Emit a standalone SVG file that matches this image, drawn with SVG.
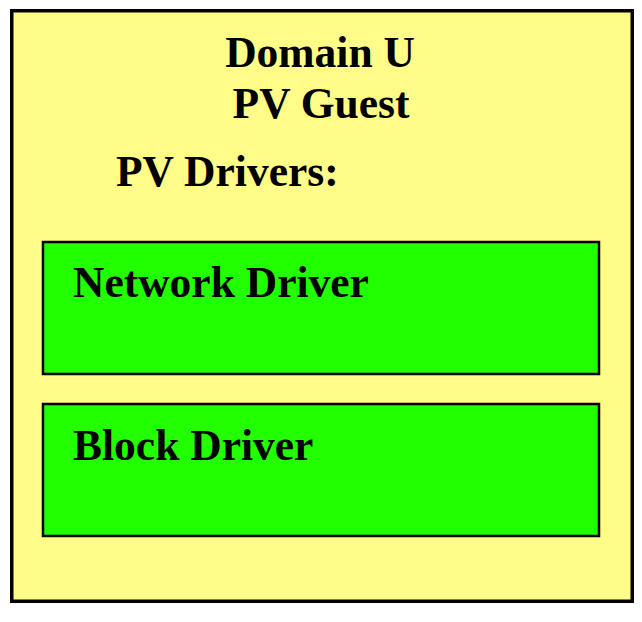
<svg xmlns="http://www.w3.org/2000/svg" width="642" height="622" viewBox="0 0 642 622">
<style>
.t{font-family:"Liberation Serif","Times New Roman",serif;font-weight:bold;font-size:43.5px;fill:#000}
.box{fill:#22FF00;stroke:#000;stroke-width:2.5}
</style>
<rect width="642" height="622" fill="#fff"/>
<g id="domainU">
<rect x="11.75" y="10.75" width="620.5" height="590.5" fill="#FFFD87" stroke="#000" stroke-width="3.5"/>
<text class="t" x="320" y="67" text-anchor="middle">Domain U</text>
<text class="t" x="321" y="118" text-anchor="middle">PV Guest</text>
<text class="t" x="116" y="186">PV Drivers:</text>
</g>
<g id="networkDriver">
<rect class="box" x="43" y="242" width="556" height="132"/>
<text class="t" x="73" y="297">Network Driver</text>
</g>
<g id="blockDriver">
<rect class="box" x="43" y="404" width="556" height="132"/>
<text class="t" x="73" y="460">Block Driver</text>
</g>
<g id="connectors"/>
</svg>
